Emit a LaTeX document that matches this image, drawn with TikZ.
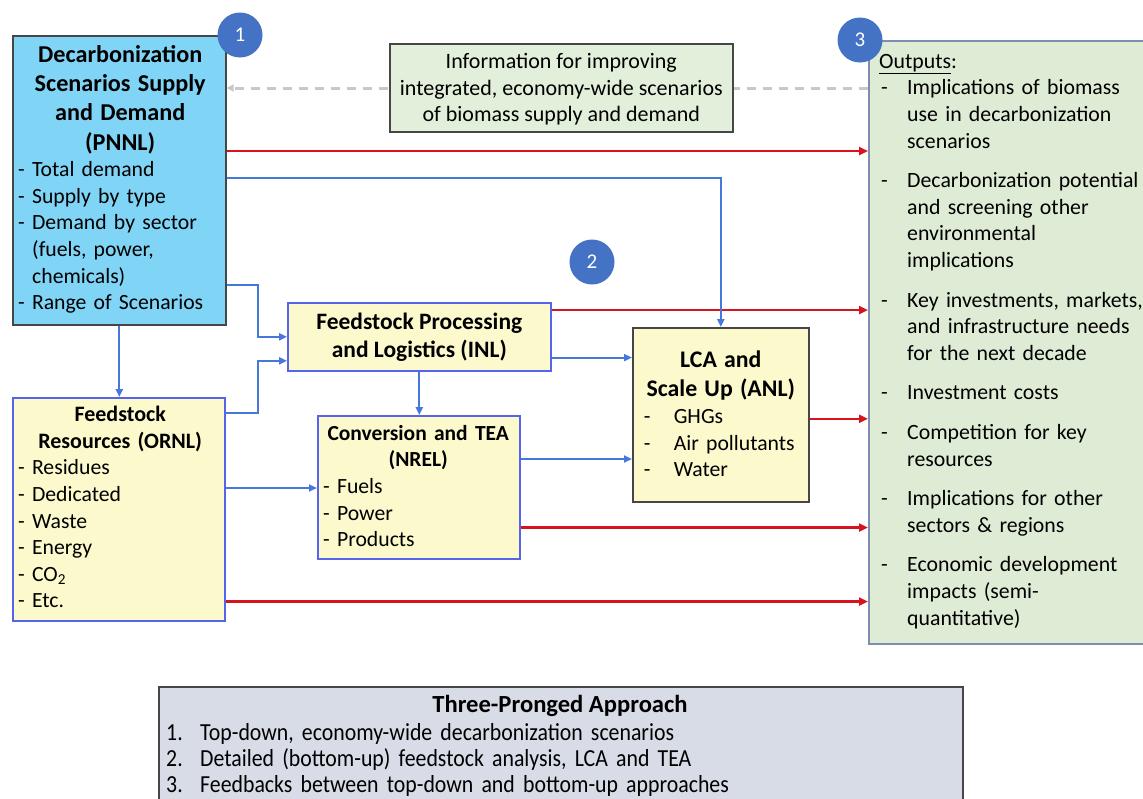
\documentclass[tikz,border=0pt]{standalone}
\usepackage{fontspec}
\setmainfont{Carlito}
\newfontfamily\condfont[FakeStretch=0.89,WordSpace=0.55]{Carlito}
\usetikzlibrary{arrows.meta,calc}
\definecolor{cyanfill}{RGB}{128,212,245}
\definecolor{yelfill}{RGB}{252,249,204}
\definecolor{grnfill}{RGB}{226,239,218}
\definecolor{outfill}{RGB}{222,236,214}
\definecolor{grayfill}{RGB}{216,220,230}
\definecolor{circblue}{RGB}{68,114,196}
\definecolor{boxblue}{RGB}{85,100,235}
\definecolor{arrblue}{RGB}{70,120,220}
\definecolor{arrred}{RGB}{215,20,30}
\definecolor{darkedge}{RGB}{70,70,70}
\definecolor{outedge}{RGB}{125,140,175}
\definecolor{dashgray}{RGB}{200,200,200}
\begin{document}
\begin{tikzpicture}[x=1pt,y=-1pt,
  boxshape/.style={draw, line width=1.6pt, anchor=north west, inner sep=0},
  txt/.style={inner sep=0, font=\fontsize{21.7}{26.6}\selectfont},
  redarr/.style={draw=arrred, line width=2.4pt, -{Triangle[length=9pt,width=8pt]}},
  bluearr/.style={draw=arrblue, line width=2pt, -{Triangle[length=8pt,width=7pt]}},
  numcirc/.style={circle, fill=circblue, minimum size=45pt, inner sep=0, text=white, font=\fontsize{21}{24}\selectfont}
]
\useasboundingbox (0,0) rectangle (1143,798);

% boxes
\node[boxshape, draw=darkedge, fill=cyanfill, minimum width=213pt, minimum height=289pt] (pnnl) at (12,35) {};
\node[boxshape, draw=outedge, fill=outfill, minimum width=275pt, minimum height=603pt] (outputs) at (868,40) {};
\node[boxshape, draw=boxblue, fill=yelfill, minimum width=263pt, minimum height=68pt] (inl) at (287,302) {};
\node[boxshape, draw=boxblue, fill=yelfill, minimum width=212pt, minimum height=223pt] (ornl) at (12,397) {};
\node[boxshape, draw=boxblue, fill=yelfill, minimum width=202pt, minimum height=143pt] (nrel) at (317,415) {};
\node[boxshape, draw=darkedge, fill=yelfill, minimum width=176pt, minimum height=174pt] (lca) at (632,327) {};
\node[boxshape, draw=darkedge, fill=grayfill, minimum width=804pt, minimum height=130pt] (approach) at (158,686) {};

% dashed feedback arrow (behind info box)
\path ($(outputs.north west)+(0,48)$) coordinate (d1);
\draw[draw=dashgray, line width=3pt, dash pattern=on 9pt off 7pt, -{Triangle[length=7pt,width=7pt]}] (d1) -- (d1 -| pnnl.east);
\node[boxshape, draw=darkedge, fill=grnfill, minimum width=343pt, minimum height=88pt] (info) at (389,43) {};

% texts
\node[txt, anchor=north west, text width=204pt, align=left] (pnnlt) at (18,45)
 {{\centering\fontsize{24.2}{29.3}\selectfont\bfseries Decarbonization\\ Scenarios Supply\\ and Demand\\ (PNNL)\par}%
  \fontsize{21.7}{26.6}\selectfont - Total demand\\ - Supply by type\\ - Demand by sector\\ \hspace*{14pt}(fuels, power,\\ \hspace*{14pt}chemicals)\\ - Range of Scenarios};

\node[txt, align=center, font=\fontsize{22}{26.5}\selectfont] (infot) at ($(info.center)+(0,1.5)$)
 {Information for improving\\ integrated, economy-wide scenarios\\ of biomass supply and demand};

\node[txt, align=center, font=\fontsize{23.5}{28}\selectfont\bfseries] (inlt) at (inl.center)
 {Feedstock Processing\\ and Logistics (INL)};

\node[txt, anchor=north west, text width=204pt, align=left] (ornlt) at (18,406)
 {{\centering\fontsize{22}{26.6}\selectfont\bfseries Feedstock\\ Resources (ORNL)\par}%
  - Residues\\ - Dedicated\\ - Waste\\ - Energy\\ - CO\textsubscript{2}\\ - Etc.};

\node[txt, anchor=north west, text width=190pt, align=left] (nrelt) at (323,425)
 {{\centering\fontsize{21.5}{26.6}\selectfont\bfseries Conversion and TEA\\ (NREL)\par}%
  - Fuels\\ - Power\\ - Products};

\node[txt, anchor=north, text width=172pt, align=left] (lcat) at (lca.north |- 0,351)
 {{\centering\fontsize{23.8}{29}\selectfont\bfseries LCA and\\ Scale Up (ANL)\par}%
  \hspace*{9pt}\makebox[30pt][l]{-}GHGs\\ \hspace*{9pt}\makebox[30pt][l]{-}Air pollutants\\ \hspace*{9pt}\makebox[30pt][l]{-}Water};

\node[txt, anchor=north west, text width=264pt, align=left, font=\fontsize{21.8}{26.6}\selectfont] (outt) at (879,54)
 {\underline{Outputs}:\par
  \makebox[28pt][l]{\hspace*{2pt}-}Implications of biomass\\ \hspace*{28pt}use in decarbonization\\ \hspace*{28pt}scenarios\par\vspace{13pt}
  \makebox[28pt][l]{\hspace*{2pt}-}Decarbonization potential\\ \hspace*{28pt}and screening other\\ \hspace*{28pt}environmental\\ \hspace*{28pt}implications\par\vspace{13pt}
  \makebox[28pt][l]{\hspace*{2pt}-}Key investments, markets,\\ \hspace*{28pt}and infrastructure needs\\ \hspace*{28pt}for the next decade\par\vspace{13pt}
  \makebox[28pt][l]{\hspace*{2pt}-}Investment costs\par\vspace{13pt}
  \makebox[28pt][l]{\hspace*{2pt}-}Competition for key\\ \hspace*{28pt}resources\par\vspace{13pt}
  \makebox[28pt][l]{\hspace*{2pt}-}Implications for other\\ \hspace*{28pt}sectors \& regions\par\vspace{13pt}
  \makebox[28pt][l]{\hspace*{2pt}-}Economic development\\ \hspace*{28pt}impacts (semi-\\ \hspace*{28pt}quantitative)};

\node[txt, font=\fontsize{24.6}{26.6}\selectfont\bfseries] (apprt) at (560,706) {Three-Pronged Approach};
\node[txt, anchor=north west, text width=760pt, align=left, font=\condfont\fontsize{24.5}{26.3}\selectfont] (apprl) at (166,723)
 {\makebox[34pt][l]{1.}Top-down, economy-wide decarbonization scenarios\\
  \makebox[34pt][l]{2.}Detailed (bottom-up) feedstock analysis, LCA and TEA\\
  \makebox[34pt][l]{3.}Feedbacks between top-down and bottom-up approaches};

% red connectors
\path ($(pnnl.north east)+(0,116)$) coordinate (r1);
\draw[redarr] (r1) -- (r1 -| outputs.west);
\path ($(inl.north east)+(0,8)$) coordinate (r2);
\draw[redarr] (r2) -- (r2 -| outputs.west);
\path ($(lca.east)+(0,4)$) coordinate (r3);
\draw[redarr] (r3) -- (r3 -| outputs.west);
\path ($(nrel.south east)+(0,-32)$) coordinate (r4);
\draw[redarr] (r4) -- (r4 -| outputs.west);
\path ($(ornl.south east)+(0,-20)$) coordinate (r5);
\draw[redarr] (r5) -- (r5 -| outputs.west);

% blue connectors
\path ($(pnnl.north east)+(0,143)$) coordinate (b1);
\draw[bluearr] (b1) -| (lca.north);
\path ($(pnnl.north east)+(0,250)$) coordinate (b2);
\draw[bluearr] (b2) -- ++(31,0) |- (inl.west);
\draw[bluearr] (pnnl.south) -- (pnnl.south |- ornl.north);
\path ($(ornl.north east)+(0,16)$) coordinate (b4);
\draw[bluearr] (b4) -- ++(32,0) |- ($(inl.west)+(0,24)$);
\path ($(ornl.north east)+(0,91)$) coordinate (b5);
\draw[bluearr] (b5) -- (b5 -| nrel.west);
\draw[bluearr] (inl.south) -- (inl.south |- nrel.north);
\path ($(inl.south east)+(0,-14)$) coordinate (b7);
\draw[bluearr] (b7) -- (b7 -| lca.west);
\path ($(nrel.north east)+(0,44)$) coordinate (b8);
\draw[bluearr] (b8) -- (b8 -| lca.west);

% numbered circles
\node[numcirc] (c1) at (240,35) {1};
\node[numcirc] (c2) at (592,262) {2};
\node[numcirc] (c3) at (860,40) {3};
\end{tikzpicture}
\end{document}
